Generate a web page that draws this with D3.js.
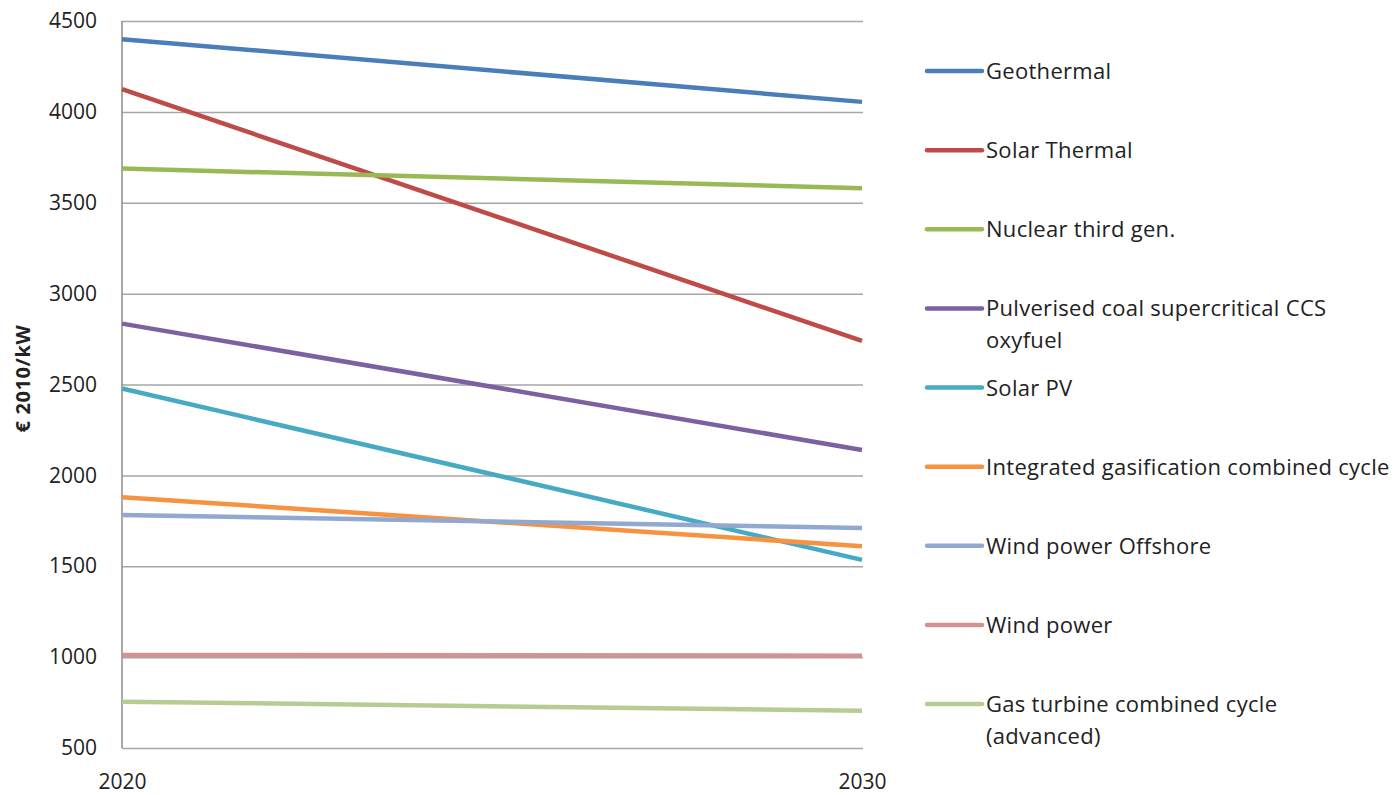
<!DOCTYPE html>
<html>
<head>
<meta charset="utf-8">
<script src="https://cdn.jsdelivr.net/npm/d3@7"></script>
<style>
  body { margin: 0; background: #fff; }
  text { font-family: "Open Sans", "Noto Sans", sans-serif; fill: #222; }
</style>
</head>
<body>
<div id="chart"></div>
<script>
const years = [2020, 2030];
const seriesNames = [
  "Geothermal", "Solar Thermal", "Nuclear third gen.",
  "Pulverised coal supercritical CCS oxyfuel", "Solar PV",
  "Integrated gasification combined cycle", "Wind power Offshore",
  "Wind power", "Gas turbine combined cycle (advanced)"
];
const legendLines = [
  ["Geothermal"], ["Solar Thermal"], ["Nuclear third gen."],
  ["Pulverised coal supercritical CCS", "oxyfuel"], ["Solar PV"],
  ["Integrated gasification combined cycle"], ["Wind power Offshore"],
  ["Wind power"], ["Gas turbine combined cycle", "(advanced)"]
];
const values = [
  [4400, 4055],
  [4125, 2740],
  [3688, 3580],
  [2835, 2140],
  [2478, 1535],
  [1880, 1610],
  [1782, 1710],
  [1012, 1008],
  [755, 705]
];
const colors = ["#4a7ebb", "#be4b48", "#98b954", "#7d60a0", "#46aac5",
                "#f69240", "#92a9cf", "#d49291", "#b5cd93"];
const yTicks = [500, 1000, 1500, 2000, 2500, 3000, 3500, 4000, 4500];

const margin = {top: 21, right: 536, bottom: 47, left: 122},
      width = 1398 - margin.left - margin.right,
      height = 795 - margin.top - margin.bottom;

const svg = d3.select("#chart")
              .append("svg")
              .attr("width", 1398)
              .attr("height", 795);

const g = svg.append("g")
             .attr("transform", `translate(${margin.left},${margin.top})`);

const x = d3.scaleLinear().domain([2020, 2030]).range([0, 740]);
const y = d3.scaleLinear().domain([500, 4500]).range([height, 0]);

// gridlines
g.append("g")
 .call(d3.axisLeft(y).tickValues(yTicks).tickSize(-741).tickFormat(""))
 .call(a => a.select(".domain").remove())
 .selectAll("line")
 .attr("stroke", "#a6a6a6")
 .attr("stroke-width", 1.5);

// left axis line
g.append("line")
 .attr("x1", 0).attr("x2", 0)
 .attr("y1", 0).attr("y2", height)
 .attr("stroke", "#8c8c8c")
 .attr("stroke-width", 1.5);

// y tick labels
g.append("g")
 .call(d3.axisLeft(y).tickValues(yTicks).tickSize(0).tickPadding(25).tickFormat(d3.format("d")))
 .call(a => a.select(".domain").remove())
 .selectAll("text")
 .style("font-size", "21px")
 .style("font-family", "'Open Sans', sans-serif")
 .attr("fill", "#222");

// x tick labels
g.append("g")
 .attr("transform", `translate(0,${height})`)
 .call(d3.axisBottom(x).tickValues(years).tickSize(0).tickPadding(26).tickFormat(d3.format("d")))
 .call(a => a.select(".domain").remove())
 .selectAll("text")
 .style("font-size", "21px")
 .style("font-family", "'Open Sans', sans-serif")
 .attr("fill", "#222");

// y axis title
svg.append("text")
   .attr("transform", `translate(30,${margin.top + height / 2 - 6}) rotate(-90)`)
   .attr("text-anchor", "middle")
   .style("font-size", "20px")
   .style("font-weight", "bold")
   .style("letter-spacing", "0.6px")
   .text("€ 2010/kW");

// series lines
const line = d3.line()
               .x((d, i) => x(years[i]))
               .y(d => y(d));

g.selectAll(".series")
 .data(values)
 .enter()
 .append("path")
 .attr("class", "series")
 .attr("d", d => line(d))
 .attr("fill", "none")
 .attr("stroke", (d, i) => colors[i])
 .attr("stroke-width", 4.5);

// legend
const legendY = d3.scaleLinear().domain([0, 8]).range([71, 704]);
const legend = svg.selectAll(".legend")
                  .data(seriesNames)
                  .enter()
                  .append("g")
                  .attr("class", "legend")
                  .attr("transform", (d, i) => `translate(927,${legendY(i)})`);

legend.append("line")
      .attr("x1", 0).attr("x2", 55)
      .attr("y1", 0).attr("y2", 0)
      .attr("stroke", (d, i) => colors[i])
      .attr("stroke-width", 4.5)
      .attr("stroke-linecap", "round");

legend.each(function(d, i) {
  const t = d3.select(this).append("text")
              .attr("x", 59)
              .attr("y", 8)
              .style("font-size", "22px")
              .style("letter-spacing", "0.3px");
  legendLines[i].forEach((s, k) => {
    t.append("tspan").attr("x", 59).attr("dy", k === 0 ? 0 : 31.5).text(s);
  });
});
</script>
</body>
</html>
